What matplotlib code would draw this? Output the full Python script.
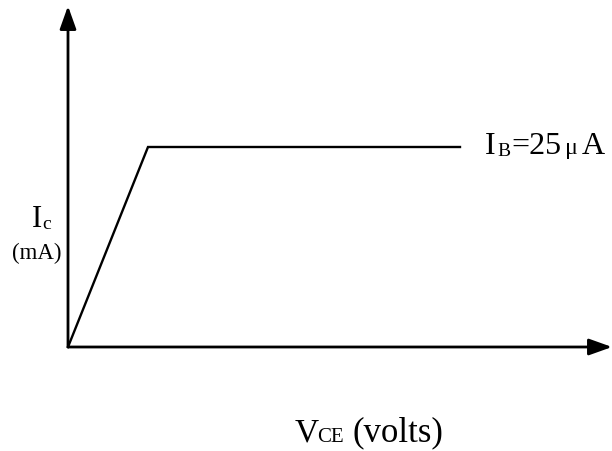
import matplotlib
matplotlib.use("Agg")
import matplotlib.pyplot as plt

# ---- data (arbitrary units) ----
vce = [0.0, 1.0, 4.9]     # V_CE points of the characteristic
ic = [0.0, 2.5, 2.5]      # I_C points of the characteristic
curve_label = ["I", "B", "=25", "μ", "A"]
x_label = ["V", "CE", "(volts)"]
y_label = ["I", "c"]
y_unit = "(mA)"

W, H = 612, 451
FONT = "Liberation Serif"
MAIN = 23
SUB = 14

fig = plt.figure(figsize=(W / 100, H / 100), dpi=100)
ox, oy = 68, 347          # origin in pixels (from top-left)
top, right = 6, 612
ax = fig.add_axes([ox / W, (H - oy) / H, (right - ox) / W, (oy - top) / H])
ax.set_xlim(0, (right - ox) / 80)
ax.set_ylim(0, (oy - top) / 80)
ax.axis("off")

# characteristic curve
ax.plot(vce, ic, color="black", lw=1.7, solid_joinstyle="miter", clip_on=False)

# axes with arrow heads
ap = dict(arrowstyle="-|>,head_length=1.4,head_width=0.5", mutation_scale=10,
          lw=2.0, color="black", shrinkA=0, shrinkB=0)
ax.annotate("", xy=(0, 1), xytext=(0, 0), xycoords="axes fraction",
            textcoords="axes fraction", arrowprops=ap)
ax.annotate("", xy=(1, 0), xytext=(0, 0), xycoords="axes fraction",
            textcoords="axes fraction", arrowprops=ap)


def put(s, x, ybase, size):
    fig.text(x / W, 1 - ybase / H, s, fontsize=size, family=FONT,
             ha="left", va="baseline", color="black")


# I_B=25 μ A
put(curve_label[0], 485, 154, MAIN)
put(curve_label[1], 497, 156, SUB)
put(curve_label[2], 511, 154, MAIN)
put(curve_label[3], 565, 154, MAIN * 0.75)
put(curve_label[4], 582, 154, MAIN)

# y label
put(y_label[0], 32, 227, 22)
put(y_label[1], 42, 229, SUB)
put(y_unit, 12, 259, 16.5)

# x label
put(x_label[0], 295, 441, 24)
put(x_label[1], 317, 442, SUB + 1)
put(x_label[2], 352, 441, 25)

fig.savefig("out.png", dpi=100)
